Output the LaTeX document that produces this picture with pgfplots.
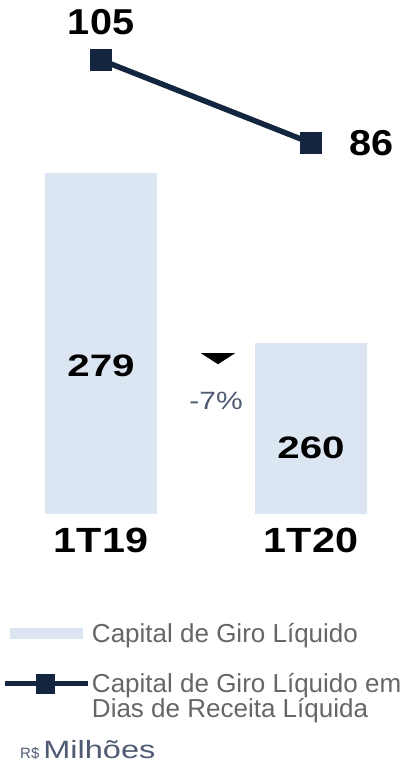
\documentclass[border=0pt]{standalone}
\usepackage{fontspec}
\setmainfont{Liberation Sans}
\usepackage{pgfplots}
\pgfplotsset{compat=1.18}
\definecolor{barfill}{HTML}{DCE6F2}
\definecolor{navy}{HTML}{14263F}
\definecolor{legtext}{HTML}{666666}
\definecolor{slate}{HTML}{4F5B73}
\newcommand{\wide}[2]{\scalebox{#1}[1]{#2}}

\begin{document}
\begin{tikzpicture}
\pgfplotsset{
  base/.style={width=411pt, height=514pt, scale only axis, hide axis,
    xmin=-0.481, xmax=1.476, at={(0pt,0pt)}, anchor=south west},
}
% bars: Capital de Giro Liquido (R$ milhoes)
\begin{axis}[base, ymin=240.89, ymax=298.34, clip=true, clip mode=individual]
\addplot[ybar, bar width=112pt, fill=barfill, draw=none]
  coordinates {(0,279) (1,260)};
\addplot[draw=none, mark=none, nodes near coords, point meta=explicit symbolic,
  every node near coord/.append style={anchor=center, font=\bfseries\fontsize{31}{31}\selectfont}]
  coordinates {(0,257.5)[\wide{1.3}{279}] (1,248.3)[\wide{1.3}{260}]};
\node[font=\bfseries\fontsize{35}{35}\selectfont] at (axis cs:0,240.89) [yshift=-26pt] {\wide{1.18}{1T19}};
\node[font=\bfseries\fontsize{35}{35}\selectfont] at (axis cs:1,240.89) [yshift=-26pt] {\wide{1.18}{1T20}};
\fill[black] (axis cs:0.557,258.3) ++(-17pt,5pt) -- ++(34pt,0pt) -- ++(-17pt,-11pt) -- cycle;
\node[text=slate, font=\fontsize{25}{25}\selectfont] at (axis cs:0.548,253.5) {\wide{1.2}{-7\%}};
\end{axis}

% line: dias de receita liquida
\begin{axis}[base, ymin=1.06, ymax=118.74, clip=false,
  legend style={at={(0.0073,-0.2121)}, anchor=north west, draw=none, fill=none,
    inner sep=0pt, outer sep=0pt, nodes={inner sep=0pt},
    font=\fontsize{26}{25}\selectfont, text=legtext,
    cells={anchor=west, align=left}, row sep=30pt,
    /tikz/every odd column/.style={column sep=1pt}}]
\addlegendimage{legend image code/.code={\fill[barfill] (5pt,-5pt) rectangle (77pt,5pt);}}
\addlegendentry{Capital de Giro Líquido}
\addplot[navy, line width=5.5pt, mark=square*, mark size=8pt,
  legend image code/.code={\draw[navy, line width=5pt] (0pt,12.5pt) -- (83pt,12.5pt);
    \fill[navy] (33pt,5.5pt) rectangle (47pt,19.5pt);}]
  coordinates {(0,105) (1,86)};
\addlegendentry{Capital de Giro Líquido em\\Dias de Receita Líquida}
\addplot[draw=none, mark=none, nodes near coords, point meta=explicit symbolic,
  every node near coord/.append style={anchor=center, font=\bfseries\fontsize{36}{36}\selectfont}]
  coordinates {(0,113.7)[\wide{1.1}{105}] (1.29,86)[\wide{1.1}{86}]};
\node[anchor=west, text=slate, inner sep=0pt] at (rel axis cs:0.0487,-0.459)
  {{\fontsize{15}{15}\selectfont R\$}\hspace{4pt}{\fontsize{25}{25}\selectfont\wide{1.3}{Milhões}}};
\end{axis}
\pgfresetboundingbox
\useasboundingbox (0pt,-251pt) rectangle (411pt,514pt);
\end{tikzpicture}
\end{document}
